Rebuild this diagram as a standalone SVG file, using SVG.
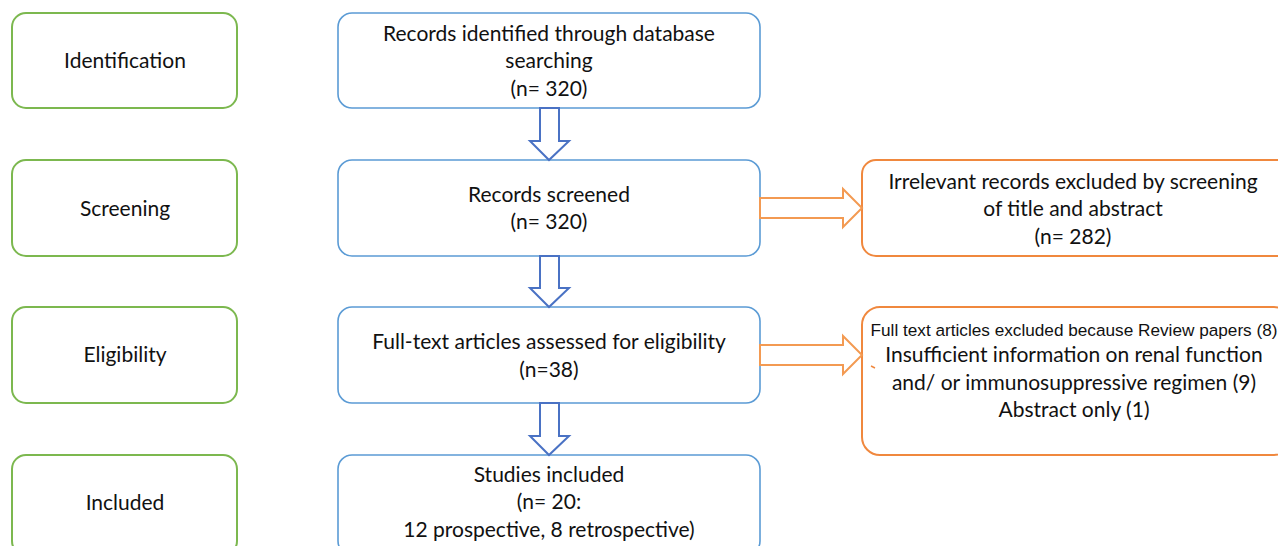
<svg xmlns="http://www.w3.org/2000/svg" width="1278" height="546" viewBox="0 0 1278 546">
<style>
.g{fill:#fff;stroke:#7cb84f;stroke-width:2}
.b{fill:#fff;stroke:#5b9bd5;stroke-width:1.6}
.o{fill:#fff;stroke:#f0883e;stroke-width:2}
.da{fill:#fff;stroke:#4a72c4;stroke-width:2}
.ra{fill:#fff;stroke:#f39a52;stroke-width:2}
text{font-family:Lato,"Open Sans",sans-serif;font-size:21px;fill:#111;text-anchor:middle}
.s{font-family:"Liberation Sans",Arial,sans-serif;font-size:17.2px}
</style>
<rect width="1278" height="546" fill="#fff"/>
<g id="stage-identification"><rect class="g" x="12" y="13" width="225" height="95" rx="14"/><text x="125" y="68">Identification</text></g>
<g id="stage-screening"><rect class="g" x="12" y="160" width="225" height="96" rx="14"/><text x="125" y="216">Screening</text></g>
<g id="stage-eligibility"><rect class="g" x="12" y="307" width="225" height="96" rx="14"/><text x="125" y="362">Eligibility</text></g>
<g id="stage-included"><rect class="g" x="12" y="455" width="225" height="100" rx="14"/><text x="125" y="510">Included</text></g>

<g id="records-identified"><rect class="b" x="338" y="13" width="422" height="95" rx="14"/>
<text x="549" y="41">Records identified through database</text><text x="549" y="68">searching</text><text x="549" y="96">(n= 320)</text></g>
<g id="records-screened"><rect class="b" x="338" y="160" width="422" height="96" rx="14"/>
<text x="549" y="202">Records screened</text><text x="549" y="229">(n= 320)</text></g>
<g id="fulltext-assessed"><rect class="b" x="338" y="307" width="422" height="96" rx="14"/>
<text x="549" y="349">Full-text articles assessed for eligibility</text><text x="549" y="377">(n=38)</text></g>
<g id="studies-included"><rect class="b" x="338" y="455" width="422" height="100" rx="14"/>
<text x="549" y="482">Studies included</text><text x="549" y="509">(n= 20:</text><text x="549" y="537">12 prospective, 8 retrospective)</text></g>

<g id="excluded-screening"><rect class="o" x="862" y="160" width="430" height="96" rx="14"/>
<text x="1073" y="189">Irrelevant records excluded by screening</text><text x="1073" y="216">of title and abstract</text><text x="1073" y="244">(n= 282)</text></g>
<g id="excluded-fulltext"><rect class="o" x="862" y="307" width="430" height="148" rx="18"/>
<text class="s" x="1074" y="336">Full text articles excluded because Review papers (8)</text>
<text x="1074" y="362">Insufficient information on renal function</text>
<text x="1074" y="390">and/ or immunosuppressive regimen (9)</text>
<text x="1074" y="417">Abstract only (1)</text>
<path d="M871 366 L875 368" stroke="#f0883e" stroke-width="1.5"/></g>

<g id="connectors">
<path class="da" d="M540 108 V141 H530 L549 160 L569 141 H559 V108 Z"/>
<path class="da" d="M540 256 V288 H530 L549 307 L569 288 H559 V256 Z"/>
<path class="da" d="M540 403 V436 H530 L549 455 L569 436 H559 V403 Z"/>
<path class="ra" d="M760 198 H843 V189 L862 208 L843 227 V218 H760 Z"/>
<path class="ra" d="M760 345 H843 V336 L862 355 L843 374 V365 H760 Z"/>
</g>
</svg>
